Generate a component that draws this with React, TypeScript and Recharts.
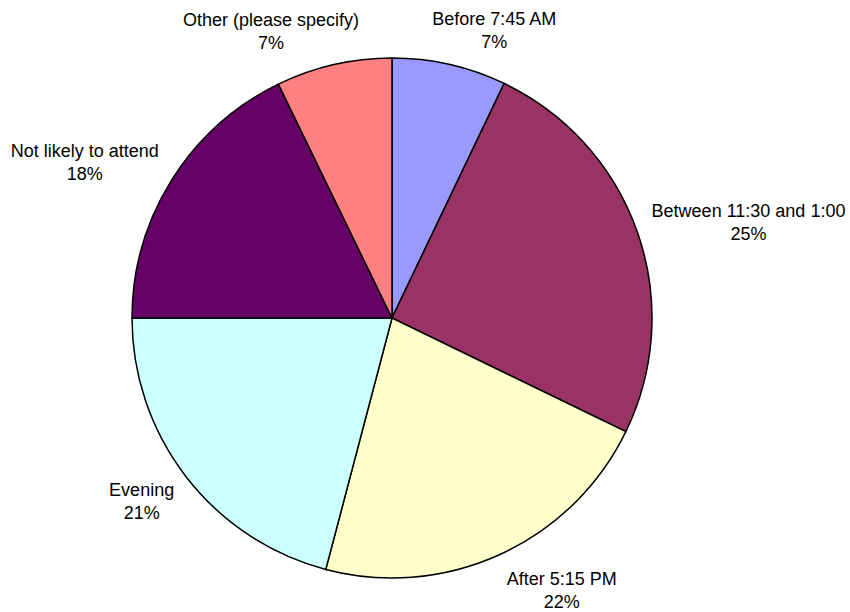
import React from "react";
import { PieChart, Pie, Cell } from "recharts";

const CATEGORIES = [
  "Before 7:45 AM",
  "Between 11:30 and 1:00",
  "After 5:15 PM",
  "Evening",
  "Not likely to attend",
  "Other (please specify)",
];
const SHARES = [7.1, 25.1, 21.9, 20.9, 17.8, 7.2];
const COLORS = ["#9999FF", "#993366", "#FFFFCC", "#CCFFFF", "#660066", "#FF8080"];

const data = CATEGORIES.map((name, i) => ({ name, value: SHARES[i] }));

const FONT = "18px 'Liberation Sans', Arial, sans-serif";
const RAD = Math.PI / 180;

let ctx: CanvasRenderingContext2D | null = null;
function textWidth(s: string) {
  if (!ctx) ctx = document.createElement("canvas").getContext("2d");
  if (!ctx) return s.length * 9;
  ctx.font = FONT;
  return ctx.measureText(s).width;
}

const clamp = (v: number) => Math.max(-1, Math.min(1, v));

// excel-ish outside label: two lines, box pushed away from the pie
function renderLabel(props: any) {
  const { cx, cy, midAngle, outerRadius, name, percent } = props;
  const pct = Math.round(percent * 100) + "%";
  const w = Math.max(textWidth(name), textWidth(pct));
  const h = 44;
  const r = outerRadius + 15;
  const c = Math.cos(midAngle * RAD);
  const s = Math.sin(midAngle * RAD);
  const px = cx + r * c;
  const py = cy - r * s;
  const x = px + (w / 2) * clamp(c * 3);
  const y = py - (h / 2) * s;
  return (
    <text
      x={x}
      y={y}
      textAnchor="middle"
      fill="#000"
      style={{ font: FONT }}
    >
      <tspan x={x} y={y - 11.5 + 8.5}>
        {name}
      </tspan>
      <tspan x={x} y={y + 11.5 + 8.5}>
        {pct}
      </tspan>
    </text>
  );
}

export default function App() {
  return (
    <div
      style={{
        position: "absolute",
        left: 0,
        top: 0,
        width: 850,
        height: 612,
        background: "#fff",
      }}
    >
      <PieChart width={850} height={612} margin={{ top: 0, right: 0, bottom: 0, left: 0 }}>
        <Pie
          data={data}
          dataKey="value"
          nameKey="name"
          cx={392}
          cy={318}
          outerRadius={260}
          startAngle={90}
          endAngle={-270}
          stroke="#000"
          strokeWidth={1.5}
          label={renderLabel}
          labelLine={false}
          isAnimationActive={false}
        >
          {data.map((d, i) => (
            <Cell key={d.name} fill={COLORS[i]} stroke="#000" strokeWidth={1.5} />
          ))}
        </Pie>
      </PieChart>
    </div>
  );
}
